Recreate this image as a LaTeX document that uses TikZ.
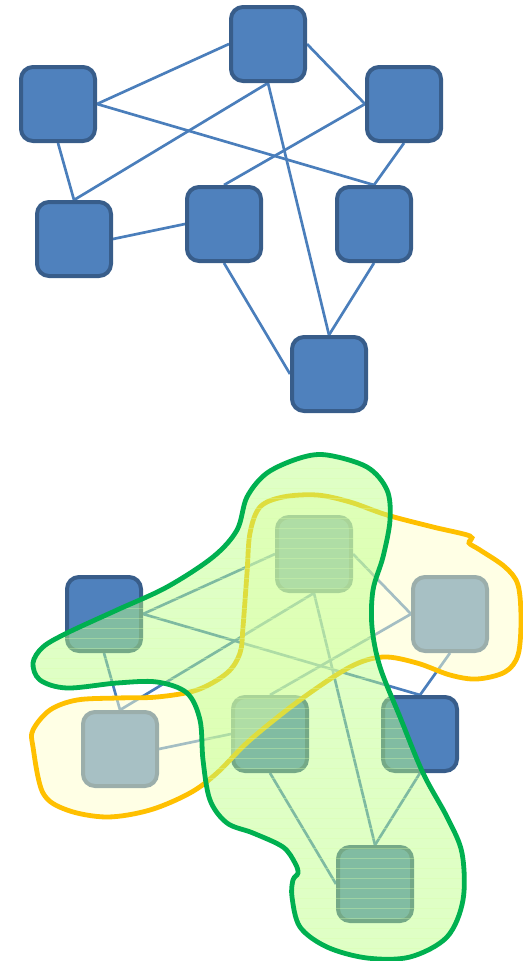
\documentclass[tikz,border=0pt]{standalone}
\usetikzlibrary{backgrounds}
\definecolor{nodefill}{HTML}{4F81BD}
\definecolor{nodeline}{HTML}{385D8A}
\definecolor{edgecol}{HTML}{4A7EBB}
\definecolor{yelfill}{HTML}{FFFFCC}
\definecolor{yelline}{HTML}{FFC000}
\definecolor{grnfill}{HTML}{BAFF84}
\definecolor{grnline}{HTML}{00B050}
\definecolor{grnstripe}{HTML}{D8FFA8}
\tikzset{
  box/.style={rectangle, rounded corners=9pt, minimum size=55.5pt, inner sep=0pt,
    fill=nodefill, draw=nodeline, line width=3pt},
  link/.style={draw=edgecol, line width=2pt},
  yelblob/.style={fill=yelfill, fill opacity=0.5, draw=yelline, line width=3.6pt},
  grnblob/.style={fill=grnfill, fill opacity=0.47},
  grnrim/.style={draw=grnline, line width=3.6pt},
}
\begin{document}
\begin{tikzpicture}[x=0.75pt,y=-0.75pt]
\useasboundingbox (0,0) rectangle (522,961);
% top graph
\node[box] (a) at (268,44) {};
\node[box] (b) at (58,104) {};
\node[box] (c) at (404,104) {};
\node[box] (d) at (74,239) {};
\node[box] (e) at (224,224) {};
\node[box] (f) at (374,224) {};
\node[box] (g) at (329,374) {};
% bottom graph
\node[box] (a2) at (314,554) {};
\node[box] (b2) at (104,614) {};
\node[box] (c2) at (450,614) {};
\node[box] (d2) at (120,749) {};
\node[box] (e2) at (270,734) {};
\node[box] (f2) at (420,734) {};
\node[box] (g2) at (375,884) {};
\begin{scope}[on background layer]
\foreach \s in {,2}{
  \draw[link] (a\s.west) -- (b\s.east);
  \draw[link] (b\s.east) -- (f\s.north);
  \draw[link] (b\s.south) -- (d\s.north);
  \draw[link] (a\s.south) -- (d\s.north);
  \draw[link] (a\s.south) -- (g\s.north);
  \draw[link] (a\s.east) -- (c\s.west);
  \draw[link] (c\s.west) -- (e\s.north);
  \draw[link] (c\s.south) -- (f\s.north);
  \draw[link] (d\s.east) -- (e\s.west);
  \draw[link] (e\s.south) -- (g\s.west);
  \draw[link] (f\s.south) -- (g\s.north);
}
\end{scope}
% yellow blob
\path[yelblob] plot[smooth cycle, tension=0.55] coordinates {
 (33,747) (43,793) (67,810) (107,817) (150,810) (190,793) (217,773) (250,740)
 (300,700) (350,667) (383,657) (417,663) (450,675) (477,679) (505,672) (518,655)
 (521,620) (518,585) (505,567) (480,550) (469,543) (470,536) (433,527) (387,515)
 (350,502) (317,495) (283,497) (260,507) (250,533) (247,573) (243,627) (240,653)
 (227,673) (197,690) (157,697) (117,698) (77,700) (50,710) (33,730)};
% green blob
\def\gpath{plot[smooth cycle, tension=0.55] coordinates {
 (327,455) (367,467) (387,490) (390,520) (383,557) (373,590) (372,627) (380,667)
 (400,717) (423,773) (447,817) (462,853) (463,900) (447,937) (410,957) (367,958)
 (327,947) (300,927) (292,897) (293,880) (298,873) (295,863) (283,847) (253,833)
 (227,823) (210,800) (203,760) (200,720) (187,693) (157,682) (117,683) (67,688)
 (40,680) (33,663) (43,647) (67,633) (117,610) (167,587) (213,557) (237,530)
 (247,497) (267,473) (300,458)}}
\path[grnblob] \gpath;
\begin{scope}
  \clip \gpath;
  \foreach \yy in {458,468,...,958}{
    \draw[grnstripe, line width=0.75pt, opacity=0.35] (0,\yy) -- (522,\yy);
  }
\end{scope}
\path[grnrim] \gpath;
\end{tikzpicture}
\end{document}
